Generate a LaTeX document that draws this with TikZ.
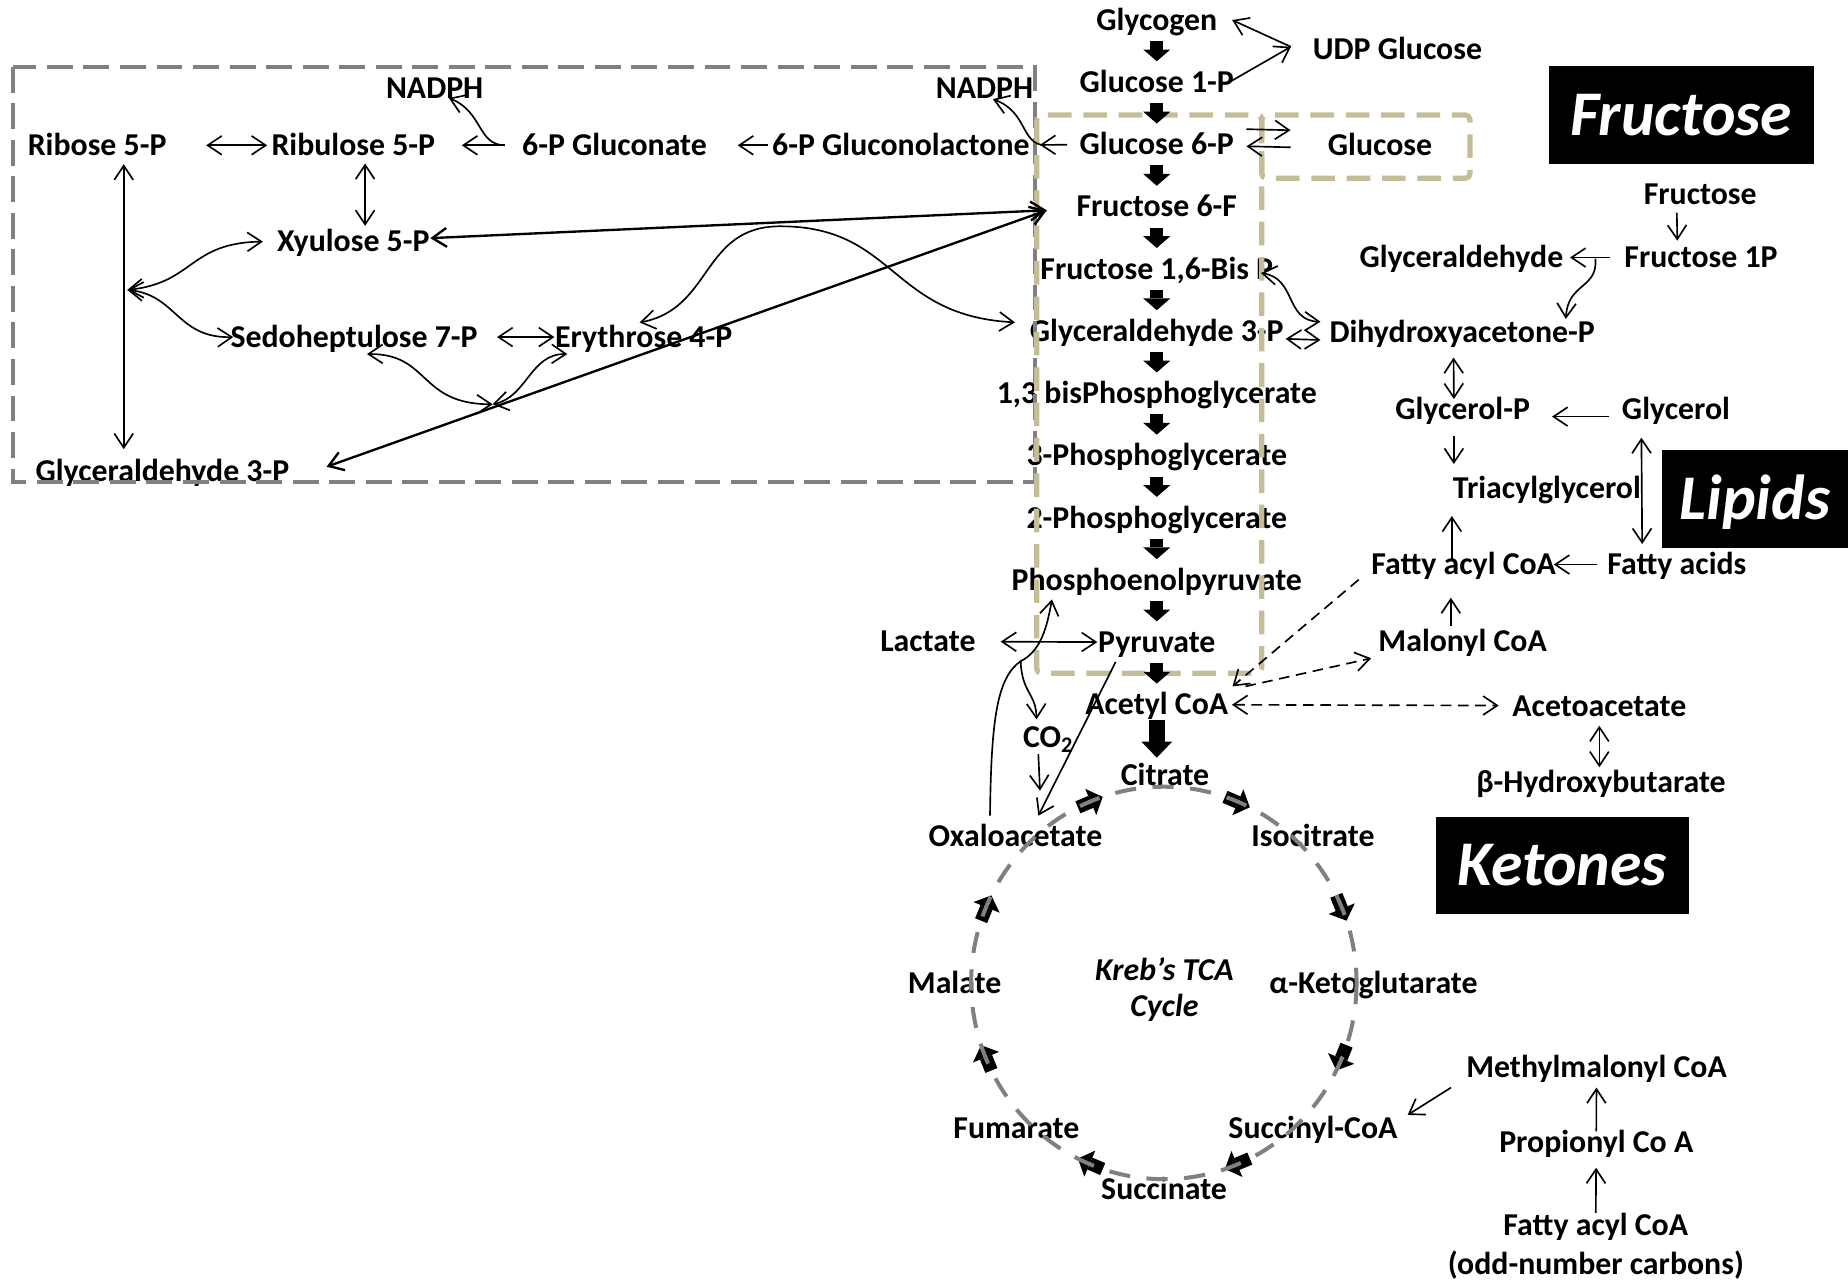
\documentclass[tikz,border=0pt]{standalone}
\usepackage{fontspec}
\setmainfont{Carlito}
\usetikzlibrary{arrows.meta,positioning,calc}
\definecolor{graydash}{HTML}{808080}
\definecolor{tandash}{HTML}{C4BD97}
\tikzset{>={Straight Barb[length=6pt,width=8pt]}}

\begin{document}
\begin{tikzpicture}[
  x=0.5pt, y=-0.5pt,
  line width=0.7pt,
  font=\fontsize{13.5}{15}\selectfont\bfseries,
  met/.style={inner sep=0pt, text height=8.7pt, text depth=0pt},
  lnkthick/.style={line width=1pt},
  dsh/.style={dash pattern=on 4.5pt off 2.8pt},
  cyc/.style={line width=5.5pt, -{Triangle[length=5.5pt,width=12pt,line width=0pt]}},
  blk/.style={line width=5.5pt, -{Triangle[length=5pt,width=11.5pt,line width=0pt]}, shorten <=4.2pt, shorten >=4.2pt},
  bigblk/.style={line width=7pt, -{Triangle[length=6.8pt,width=13pt,line width=0pt]}},
  blackbox/.style={fill=black, text=white, inner sep=0pt, text height=17.4pt, text depth=0pt,
    font=\fontsize{27}{32}\selectfont\bfseries\itshape},
  graybox/.style={draw=graydash, line width=1.65pt, dash pattern=on 11pt off 4.5pt},
  tanbox/.style={draw=tandash, line width=2.2pt, dash pattern=on 10pt off 5pt, rounded corners=2pt},
  tcaring/.style={draw=graydash, line width=1.7pt, dash pattern=on 9pt off 7pt},
  node distance=26.4pt
]
\useasboundingbox (0,0) rectangle (1568,1087);

\node[met] (glycogen) at (981.5,17) {Glycogen};
\node[met, below of=glycogen] (gluc1p) {Glucose 1-P};
\node[met, below of=gluc1p] (gluc6p) {Glucose 6-P};
\node[met, below of=gluc6p] (fruc6p) {Fructose 6-F};
\node[met, below of=fruc6p] (fbp) {Fructose 1,6-Bis P};
\node[met, below of=fbp] (gap) {Glyceraldehyde 3-P};
\node[met, below of=gap] (bpg) {1,3 bisPhosphoglycerate};
\node[met, below of=bpg] (pg3) {3-Phosphoglycerate};
\node[met, below of=pg3] (pg2) {2-Phosphoglycerate};
\node[met, below of=pg2] (pep) {Phosphoenolpyruvate};
\node[met, below of=pep] (pyr) {Pyruvate};
\node[met, below of=pyr] (accoa) {Acetyl CoA};

\node[met] (udp) at (1185.7,41.7) {UDP Glucose};
\node[met] (glucose) at (1170.9,123.5) {Glucose};

\node[met] (nadph1) at (368.8,74.7) {NADPH};
\node[met] (nadph2) at (835.4,74.7) {NADPH};
\node[met] (ribose) at (82.4,123.3) {Ribose 5-P};
\node[met] (ribulose) at (299.8,123.3) {Ribulose 5-P};
\node[met] (gluconate) at (521.4,123.3) {6-P Gluconate};
\node[met] (lactone) at (764.4,123.3) {6-P Gluconolactone};
\node[met] (xylulose) at (299.8,205) {Xyulose 5-P};
\node[met] (sedo) at (300.4,286) {Sedoheptulose 7-P};
\node[met] (eryth) at (546.2,286) {Erythrose 4-P};
\node[met] (gap2) at (137.8,399.5) {Glyceraldehyde 3-P};

\node[met] (fructose) at (1442.6,164.8) {Fructose};
\node[met] (fru1p) at (1443.3,218.5) {Fructose 1P};
\node[met] (glyald) at (1240,218.5) {Glyceraldehyde};
\node[met] (dhap) at (1240.6,282) {Dihydroxyacetone-P};
\node[met] (glycp) at (1241,347) {Glycerol-P};
\node[met] (glycerol) at (1422,347) {Glycerol};
\node[met] (triacyl) at (1312.5,414) {Triacylglycerol};
\node[met] (facoa) at (1241.9,479) {Fatty acyl CoA};
\node[met] (fa) at (1422.8,479) {Fatty acids};
\node[met] (malonyl) at (1241,544) {Malonyl CoA};
\node[met] (acac) at (1357,598.9) {Acetoacetate};
\node[met] (bhb) at (1358.4,663.5) {β-Hydroxybutarate};

\node[met] (lactate) at (787.3,544.2) {Lactate};
\node[met] (co2) at (889.5,625.8) {CO\textsubscript{2}};

\node[met] (citrate) at (988.5,657.5) {Citrate};
\node[met] (isocit) at (1114,709.5) {Isocitrate};
\node[met] (akg) at (1165.4,834.3) {α-Ketoglutarate};
\node[met] (succoa) at (1114,957.7) {Succinyl-CoA};
\node[met] (succ) at (987.7,1009) {Succinate};
\node[met] (fum) at (862.4,957.7) {Fumarate};
\node[met] (mal) at (810,834.3) {Malate};
\node[met] (oaa) at (861.6,709.5) {Oxaloacetate};
\node[align=center, font=\fontsize{13.5}{15.3}\selectfont\bfseries\itshape] (kreb) at (988,839.5) {Kreb’s TCA\\Cycle};

\node[met] (mmcoa) at (1354.6,905.8) {Methylmalonyl CoA};
\node[met] (propcoa) at (1354.4,969.4) {Propionyl Co A};
\node[align=center, inner sep=0pt, anchor=north, font=\fontsize{13.5}{16.25}\selectfont\bfseries] (facoa2) at (1354,1029) {Fatty acyl CoA\\(odd-number carbons)};

\node[blackbox, minimum width=112.5pt, minimum height=41.7pt] (fructag) at (1426.4,97.7) {Fructose};
\node[blackbox, minimum width=79.1pt, minimum height=41.75pt] (lipidtag) at (1488.9,423.6) {Lipids};
\node[blackbox, minimum width=107.5pt, minimum height=41.25pt] (ketotag) at (1325.5,734.3) {Ketones};

\draw[graybox] (11.4,56.6) rectangle (878,408.7);
\draw[tanbox] (879.6,97.6) rectangle (1070.5,571.3);
\draw[tanbox] (1070.5,97.6) rectangle (1247.3,151.3);

\draw[blk] (glycogen) -- (gluc1p);
\draw[blk] (gluc1p) -- (gluc6p);
\draw[blk] (gluc6p) -- (fruc6p);
\draw[blk] (fruc6p) -- (fbp);
\draw[blk] (fbp) -- (gap);
\draw[blk] (gap) -- (bpg);
\draw[blk] (bpg) -- (pg3);
\draw[blk] (pg3) -- (pg2);
\draw[blk] (pg2) -- (pep);
\draw[blk] (pep) -- (pyr);
\draw[blk] (pyr) -- (accoa);
\draw[bigblk, shorten <=2pt, shorten >=2.6pt] (accoa) -- (accoa |- citrate.north);

\coordinate (tcac) at (987.5,834);
\draw[cyc] ($(tcac)+(-71.5:163.5 and 166.5)$) -- ($(tcac)+(-63.5:163.5 and 166.5)$);
\draw[cyc] ($(tcac)+(-26.5:163.5 and 166.5)$) -- ($(tcac)+(-18.5:163.5 and 166.5)$);
\draw[cyc] ($(tcac)+(18.5:163.5 and 166.5)$) -- ($(tcac)+(26.5:163.5 and 166.5)$);
\draw[cyc] ($(tcac)+(63.5:163.5 and 166.5)$) -- ($(tcac)+(71.5:163.5 and 166.5)$);
\draw[cyc] ($(tcac)+(108.5:163.5 and 166.5)$) -- ($(tcac)+(116.5:163.5 and 166.5)$);
\draw[cyc] ($(tcac)+(153.5:163.5 and 166.5)$) -- ($(tcac)+(161.5:163.5 and 166.5)$);
\draw[cyc] ($(tcac)+(198.5:163.5 and 166.5)$) -- ($(tcac)+(206.5:163.5 and 166.5)$);
\draw[cyc] ($(tcac)+(243.5:163.5 and 166.5)$) -- ($(tcac)+(251.5:163.5 and 166.5)$);
\draw[tcaring] (tcac) ellipse [x radius=163.5, y radius=166.5];

\coordinate (udpv) at ([shift={(-18,-2)}]udp.west);
\draw[->] ([shift={(-3,-1)}]gluc1p.east) -- (udpv);
\draw[->] (udpv) -- ([shift={(12,0)}]glycogen.east);
\draw[->] ([shift={(10,-13)}]gluc6p.east) -- ([shift={(-31,-13)}]glucose.west);
\draw[->] ([shift={(-31,1.5)}]glucose.west) -- ([shift={(10,1.5)}]gluc6p.east);

\draw[<->, shorten <=16.5pt, shorten >=1.5pt] (ribose) -- (ribulose);
\draw[->, shorten <=7pt, shorten >=11pt] (gluconate) -- (ribulose);
\draw[->, shorten <=1.5pt, shorten >=12.75pt] (lactone) -- (gluconate);
\draw[->, shorten <=5pt, shorten >=4pt] (gluc6p) -- (lactone);
\draw[->] ([shift={(-14,0)}]gluconate.west) .. controls (405,123) and (410,95) .. ([shift={(12,-1)}]nadph1.south);
\draw[->] ([shift={(12,0)}]lactone.east) .. controls (866,122) and (872,95) .. ([shift={(7,0)}]nadph2.south);
\draw[<->, shorten <=3pt, shorten >=2pt] ([xshift=5pt]ribulose.south) -- ([xshift=5pt]xylulose.north);
\draw[<->, shorten <=3.3pt, shorten >=4.5pt] ([xshift=11.3pt]ribose.south) -- ([xshift=-16.4pt]gap2.north);

\coordinate (rbr) at (108,246);
\draw[<->] (rbr) .. controls (165,240) and (160,206) .. ([xshift=-5.7pt]xylulose.west);
\draw[<->] (rbr) .. controls (150,250) and (150,287) .. ([xshift=1.5pt]sedo.west);
\draw[<->, shorten <=7.9pt] (sedo) -- (eryth);

\coordinate (f6in) at ([shift={(-24.5,3)}]fruc6p.west);
\draw[<->, lnkthick] (xylulose) -- (f6in);
\draw[<->, lnkthick] ([shift={(31,-3.5)}]gap2.east) -- (f6in);
\draw[<->] ([shift={(-3.5,-3)}]eryth.north) .. controls (605,262) and (595,192) .. (662,192)
  .. controls (760,192) and (755,268) .. ([shift={(-12,-7.5)}]gap.west);

\coordinate (xpt) at (418,343);
\draw[<->] ([shift={(11,5)}]sedo.south) .. controls (365,300) and (355,343) .. (xpt);
\draw[<->] ([shift={(11,5)}]eryth.south west) .. controls (450,300) and (447,337) .. (xpt);

\draw[<->] ([shift={(-11,3.5)}]fbp.east) .. controls (1100,236) and (1090,272) .. ([shift={(-7,-9)}]dhap.west);
\draw[<->] ([shift={(1,6.5)}]gap.east) -- ([shift={(-7,6.5)}]dhap.west);
\draw[->, shorten <=3.1pt, shorten >=2.45pt] ([xshift=-10pt]fructose.south) -- ([xshift=-10pt]fru1p.north);
\draw[->, shorten <=6pt, shorten >=2.5pt] (fru1p) -- (glyald);
\draw[->] ([shift={(-24,1)}]fru1p.west) .. controls (1356,245) and (1330,240) .. ([shift={(88,-2)}]dhap.north);
\draw[<->, shorten <=6pt, shorten >=-0.5pt] ([xshift=-3.7pt]dhap.south) -- ([xshift=-3.7pt]glycp.north);
\draw[->] ([shift={(-10,6.5)}]glycerol.west) -- ([shift={(18,6.5)}]glycp.east);
\draw[->, shorten <=6.7pt, shorten >=5.45pt] ([xshift=-3.7pt]glycp.south) -- ([xshift=-3.7pt]glycp.south |- triacyl.north);
\draw[<->, shorten <=7.45pt, shorten >=4pt] ([xshift=-14.7pt]glycerol.south) -- ([xshift=-14.7pt]fa.north);
\draw[->, shorten <=-3.3pt, shorten >=7.2pt] ([xshift=-5pt]facoa.north) -- ([xshift=-5pt]facoa.north |- triacyl.south);
\draw[->, shorten <=1.85pt, shorten >=9.35pt] ([xshift=-5pt]malonyl.north) -- ([xshift=-5pt]malonyl.north |- facoa.south);
\draw[->, shorten <=4pt, shorten >=-1.3pt] (fa) -- (facoa);

\draw[->, dsh] ([shift={(-10,3.4)}]facoa.south west) -- ([shift={(3,-6)}]accoa.north east);
\draw[->, dsh] ([shift={(14,-6)}]accoa.north east) -- ([shift={(-5.5,14.5)}]malonyl.west);
\draw[<->, dsh, shorten <=1.25pt, shorten >=5.45pt] (accoa) -- (acac);
\draw[<->, shorten <=3.75pt, shorten >=1.55pt] (acac) -- (acac |- bhb.north);

\draw[<->, shorten <=10.3pt] (lactate) -- (pyr);
\draw[->] ([shift={(15.6,7.2)}]pyr.south west) -- ([shift={(19.4,-8)}]oaa.north);
\coordinate (obend) at (866,561);
\draw[->] ([shift={(-21.6,-8)}]oaa.north) .. controls (841,610) and (846,575) .. (obend)
  .. controls (882,553) and (888,535) .. ([shift={(-89,7)}]pep.south);
\draw[->] (obend) .. controls (867,588) and (879,588) .. ([shift={(-10,-6)}]co2.north);
\draw[->] ([shift={(-8.5,4.6)}]co2.south) -- ([shift={(20.8,-29.2)}]oaa.north);

\draw[->] ([shift={(-12.3,7.6)}]mmcoa.south west) -- ([shift={(8,-11.7)}]succoa.east);
\draw[->, shorten >=3.8pt] (propcoa) -- (mmcoa);
\draw[->, shorten >=6pt] (facoa2.north) -- (propcoa);
\end{tikzpicture}
\end{document}
